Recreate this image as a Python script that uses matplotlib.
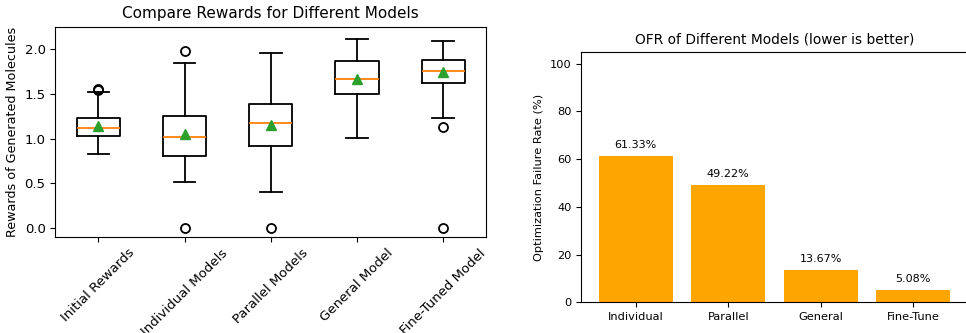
import matplotlib
matplotlib.use('Agg')
import matplotlib.pyplot as plt

# box statistics
models = ['Initial Rewards', 'Individual Models', 'Parallel Models', 'General Model', 'Fine-Tuned Model']
whislo = [0.83, 0.52, 0.40, 1.01, 1.23]
q1 = [1.035, 0.81, 0.92, 1.505, 1.625]
med = [1.117, 1.024, 1.177, 1.669, 1.758]
q3 = [1.236, 1.259, 1.393, 1.873, 1.881]
whishi = [1.52, 1.844, 1.963, 2.119, 2.093]
means = [1.143, 1.054, 1.15, 1.669, 1.747]
fliers = [[1.555, 1.54], [1.98, 0.0], [0.0], [], [1.132, 0.0]]

# failure rates for the right chart
ofr_models = ['Individual', 'Parallel', 'General', 'Fine-Tune']
ofr = [61.33, 49.22, 13.67, 5.08]

fig = plt.figure(figsize=(9.66, 3.33), dpi=100)
W, H = 966, 333

ax1 = fig.add_axes([55.3 / W, 1 - 236.7 / H, (486.3 - 55.3) / W, (236.7 - 26.7) / H])
stats = []
for i in range(len(models)):
    stats.append({'label': models[i], 'whislo': whislo[i], 'q1': q1[i], 'med': med[i],
                  'q3': q3[i], 'whishi': whishi[i], 'mean': means[i], 'fliers': fliers[i]})
lw = 1.3
ax1.bxp(stats, showmeans=True,
        boxprops={'linewidth': lw}, whiskerprops={'linewidth': lw},
        capprops={'linewidth': lw}, medianprops={'linewidth': lw, 'color': 'C1'},
        flierprops={'markeredgewidth': lw, 'markersize': 6.5},
        meanprops={'markersize': 7})
ax1.set_ylim(-0.097, 2.253)
ax1.set_yticks([0.0, 0.5, 1.0, 1.5, 2.0])
ax1.set_title('Compare Rewards for Different Models', fontsize=11)
ax1.set_ylabel('Rewards of Generated Molecules', fontsize=9.2)
ax1.tick_params(labelsize=9.5)
plt.setp(ax1.get_xticklabels(), rotation=45)

ax2 = fig.add_axes([581.3 / W, 1 - 302.3 / H, (967.5 - 581.3) / W, (302.3 - 51.7) / H])
bars = ax2.bar(ofr_models, ofr, color='orange')
for b, v in zip(bars, ofr):
    ax2.text(b.get_x() + b.get_width() / 2, v + 2.5, f'{v:.2f}%', ha='center', va='bottom', fontsize=8)
ax2.set_ylim(0, 105)
ax2.set_title('OFR of Different Models (lower is better)', fontsize=9.9)
ax2.set_ylabel('Optimization Failure Rate (%)', fontsize=8.2)
ax2.tick_params(labelsize=8.2)

fig.savefig('out.png', dpi=100)
